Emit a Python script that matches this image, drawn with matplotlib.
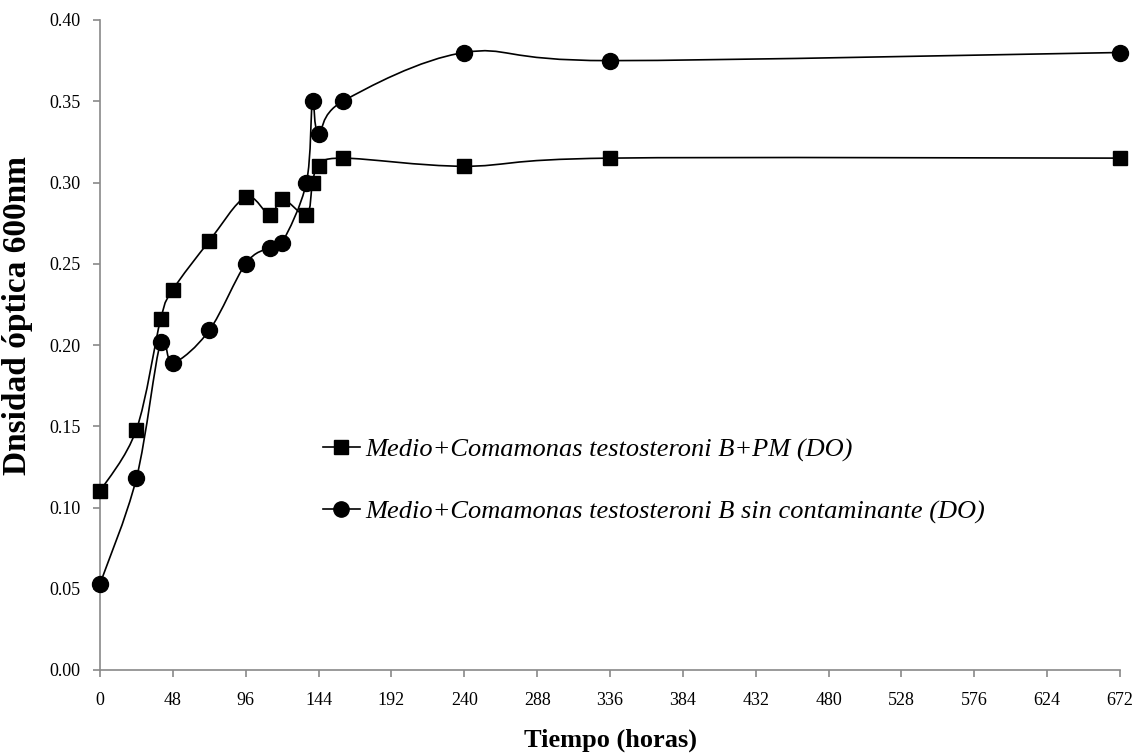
import numpy as np
import matplotlib
matplotlib.use("Agg")
import matplotlib.pyplot as plt
from matplotlib.path import Path
from matplotlib.patches import PathPatch
from matplotlib.lines import Line2D

# Time points (hours) and optical density at 600 nm
t_pm = [0, 24, 40, 48, 72, 96, 112, 120, 136, 140, 144, 160, 240, 336, 672]
do_pm = [0.110, 0.148, 0.216, 0.234, 0.264, 0.291, 0.280, 0.290, 0.280, 0.300, 0.310, 0.315, 0.310, 0.315, 0.315]

t_sc = [0, 24, 40, 48, 72, 96, 112, 120, 136, 140, 144, 160, 240, 336, 672]
do_sc = [0.053, 0.118, 0.202, 0.189, 0.209, 0.250, 0.260, 0.263, 0.300, 0.350, 0.330, 0.350, 0.380, 0.375, 0.380]

label_pm = "Medio+Comamonas testosteroni B+PM (DO)"
label_sc = "Medio+Comamonas testosteroni B sin contaminante (DO)"

x_ticks = list(range(0, 673, 48))
y_ticks = [0.00, 0.05, 0.10, 0.15, 0.20, 0.25, 0.30, 0.35, 0.40]

plt.rcParams["font.family"] = ["Liberation Serif", "DejaVu Serif"]


def smooth_path(x, y):
    """Catmull-Rom style Bezier path through the points (smoothed line)."""
    pts = np.column_stack([x, y]).astype(float)
    n = len(pts)
    verts = [pts[0]]
    codes = [Path.MOVETO]
    for i in range(n - 1):
        p0 = pts[i - 1] if i > 0 else pts[i]
        p1 = pts[i]
        p2 = pts[i + 1]
        p3 = pts[i + 2] if i + 2 < n else pts[i + 1]
        c1 = p1 + (p2 - p0) / 6.0
        c2 = p2 - (p3 - p1) / 6.0
        verts += [c1, c2, p2]
        codes += [Path.CURVE4] * 3
    return Path(verts, codes)


fig = plt.figure(figsize=(11.36, 7.53), dpi=100)
ax = fig.add_axes([100 / 1136, 83 / 753, 1020 / 1136, 650 / 753])

lw = 1.2
for x, y, mk, ms in [(t_pm, do_pm, "s", 10.5), (t_sc, do_sc, "o", 11.5)]:
    ax.add_patch(PathPatch(smooth_path(x, y), facecolor="none", edgecolor="black",
                           lw=lw, zorder=2, clip_on=False))
    ax.plot(x, y, linestyle="none", marker=mk, markersize=ms, color="black",
            zorder=3, clip_on=False)

ax.set_xlim(0, 672)
ax.set_ylim(0, 0.40)
ax.set_xticks(x_ticks)
ax.set_yticks(y_ticks)
ax.set_yticklabels([f"{v:.2f}" for v in y_ticks])

for s in ["top", "right"]:
    ax.spines[s].set_visible(False)
for s in ["left", "bottom"]:
    ax.spines[s].set_color("#898989")
    ax.spines[s].set_linewidth(1.2)
ax.tick_params(axis="both", direction="out", length=5, width=1.2, color="#898989",
               labelsize=13, labelcolor="black")
ax.tick_params(axis="x", pad=11)
ax.tick_params(axis="y", pad=9)

ax.set_xlabel("Tiempo (horas)", fontsize=19, fontweight="bold", labelpad=14)
ax.set_ylabel("Dnsidad óptica 600nm", fontsize=24, fontweight="bold")
ax.yaxis.set_label_coords(-0.066, 0.546)

handles = [
    Line2D([], [], color="black", lw=lw, marker="s", markersize=10),
    Line2D([], [], color="black", lw=lw, marker="o", markersize=11),
]
leg = ax.legend(handles, [label_pm, label_sc], loc="upper left",
                bbox_to_anchor=(0.195, 0.394), frameon=False,
                prop={"style": "italic", "size": 19}, handlelength=1.4,
                handletextpad=0.2, labelspacing=1.45)

fig.savefig("out.png", dpi=100)
